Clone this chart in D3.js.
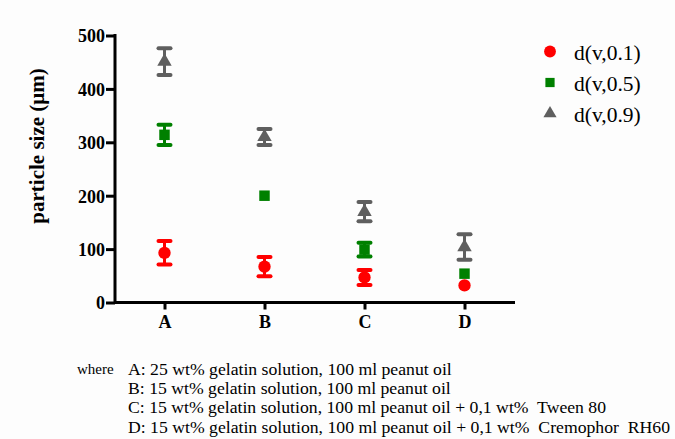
<!DOCTYPE html>
<html><head><meta charset="utf-8">
<script src="https://cdn.jsdelivr.net/npm/d3@7"></script>
<style>body{margin:0;background:#fdfdfd;} svg{display:block;}</style>
</head><body>
<svg id="c" width="675" height="439"></svg>
<script>
const categories = ["A","B","C","D"];
const seriesNames = ["d(v,0.1)","d(v,0.5)","d(v,0.9)"];
const d01 = [93, 67, 47, 32];
const d01err = [22, 18, 14, 0];
const d05 = [314, 200, 99, 54];
const d05err = [19, 0, 13, 0];
const d09 = [451, 310, 170, 104];
const d09err = [25, 15, 18, 24];
const yTicks = [0,100,200,300,400,500];
const notes = [
  "A: 25 wt% gelatin solution, 100 ml peanut oil",
  "B: 15 wt% gelatin solution, 100 ml peanut oil",
  "C: 15 wt% gelatin solution, 100 ml peanut oil + 0,1 wt%  Tween 80",
  "D: 15 wt% gelatin solution, 100 ml peanut oil + 0,1 wt%  Cremophor  RH60"
];
const colors = ["#ff0000","#008000","#5f5f5f"];
const shapes = [d3.symbolCircle, d3.symbolSquare, d3.symbolTriangle];

const svg = d3.select("#c");
const serif = "'Liberation Serif','Times New Roman',serif";
const x = d3.scalePoint().domain(categories).range([164.5,464.5]);
const y = d3.scaleLinear().domain([0,500]).range([302.5,35.5]);

// axes
const yAxis = svg.append("g").attr("transform","translate(115,0)")
  .call(d3.axisLeft(y).tickValues(yTicks).tickSize(9).tickPadding(1));
const xAxis = svg.append("g").attr("transform","translate(0,302.5)")
  .call(d3.axisBottom(x).tickSize(7).tickPadding(3).tickSizeOuter(0));
svg.selectAll(".domain").remove();
svg.append("line").attr("x1",115).attr("x2",115).attr("y1",y(500)-1.5).attr("y2",y(0)+1.5).attr("stroke","#000").attr("stroke-width",3);
svg.append("line").attr("x1",115).attr("x2",515).attr("y1",y(0)).attr("y2",y(0)).attr("stroke","#000").attr("stroke-width",3);
svg.selectAll(".tick line").attr("stroke","#000").attr("stroke-width",3);
svg.selectAll(".tick text").attr("font-family",serif).attr("font-weight","bold").attr("font-size",18).attr("fill","#000");
yAxis.selectAll(".tick text").attr("dy","0.35em");
xAxis.selectAll(".tick text").attr("dy","0.85em");

svg.append("text").attr("transform","translate(37,146) rotate(-90)").attr("text-anchor","middle")
  .attr("dy","0.35em").attr("font-family",serif).attr("font-weight","bold").attr("font-size",21).text("particle size (μm)");

const series = [[d01,d01err],[d05,d05err],[d09,d09err]];
series.forEach(([vals,errs],si)=>{
  const g = svg.append("g").attr("fill",colors[si]).attr("stroke",colors[si]);
  categories.forEach((c,i)=>{
    const cx = x(c), v = vals[i], e = errs[i];
    if(e>0){
      g.append("line").attr("x1",cx).attr("x2",cx).attr("y1",y(v+e)).attr("y2",y(v-e)).attr("stroke-width",3);
      [v+e,v-e].forEach(t=>g.append("line").attr("x1",cx-6).attr("x2",cx+6).attr("y1",y(t)).attr("y2",y(t))
        .attr("stroke-width",4).attr("stroke-linecap","round"));
    }
    g.append("path").attr("d",d3.symbol().type(shapes[si]).size(si===0?120:si===1?110:90)())
      .attr("transform",`translate(${cx},${y(v)})`).attr("stroke","none");
  });
});

// legend
seriesNames.forEach((n,i)=>{
  const ly = 51.5 + i*31;
  svg.append("path").attr("d",d3.symbol().type(shapes[i]).size(i===0?110:i===1?85:75)())
    .attr("transform",`translate(550,${ly})`).attr("fill",colors[i]);
  svg.append("text").attr("x",574).attr("y",ly+1).attr("dy","0.35em").attr("font-family",serif)
    .attr("font-size",21.5).text(n);
});

// notes
svg.append("text").attr("x",77).attr("y",368.5).attr("dy","0.35em").attr("font-family",serif).attr("font-size",15).text("where");
notes.forEach((t,i)=>{
  svg.append("text").attr("x",128).attr("y",368.5+i*19.4).attr("dy","0.35em").attr("font-family",serif)
    .attr("font-size",17.7).style("white-space","pre").text(t);
});
</script>
</body></html>
